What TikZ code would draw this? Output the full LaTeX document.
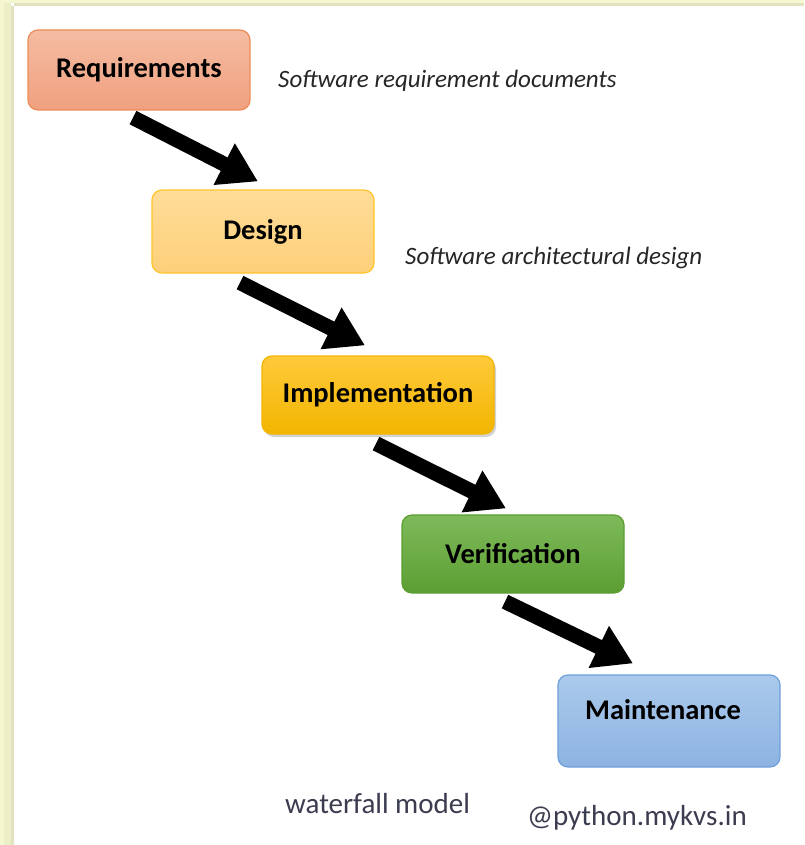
\documentclass[tikz,border=0pt]{standalone}
\usepackage{fontspec}
\setmainfont{Carlito}
\usetikzlibrary{arrows.meta,shadows,calc}

\definecolor{edgeA}{HTML}{F5F7D0}
\definecolor{edgeB}{HTML}{ECEEC6}
\definecolor{edgeC}{HTML}{E2E3BE}
\definecolor{reqTop}{HTML}{F5BCA2}
\definecolor{reqBot}{HTML}{F0A07F}
\definecolor{reqLine}{HTML}{EE8C58}
\definecolor{desTop}{HTML}{FFDC98}
\definecolor{desBot}{HTML}{FDD07A}
\definecolor{desLine}{HTML}{FFC52A}
\definecolor{impTop}{HTML}{FFCA3A}
\definecolor{impBot}{HTML}{F2B500}
\definecolor{verTop}{HTML}{7EBA5B}
\definecolor{verBot}{HTML}{5C9E32}
\definecolor{mntTop}{HTML}{ABCAEB}
\definecolor{mntBot}{HTML}{8DB3E2}
\definecolor{mntLine}{HTML}{6E9FDB}
\definecolor{noteText}{HTML}{262626}
\definecolor{footText}{HTML}{3C3C50}

\begin{document}
\begin{tikzpicture}[x=1pt,y=-1pt,
  stage/.style={rectangle, rounded corners=10pt, minimum width=222pt,
    minimum height=80pt, line width=1.2pt, font=\bfseries\fontsize{28.5}{32}\selectfont,
    text=black},
  boxtext/.style={font=\bfseries\fontsize{28.5}{32}\selectfont, text=black, inner sep=0pt},
  note/.style={font=\itshape\fontsize{25}{30}\selectfont, text=noteText, inner sep=0pt},
  foot/.style={font=\fontsize{29}{34}\selectfont, text=footText, inner sep=0pt},
  bigarrow/.style={line width=15pt, black,
    -{Triangle[length=38pt,width=44pt]}}
]
\useasboundingbox (0,0) rectangle (804,845);
\fill[white] (0,0) rectangle (804,845);

% pale page edges
\fill[edgeA] (0,0) rectangle (804,3);
\fill[edgeC] (14,3) rectangle (804,6);
\fill[edgeA] (0,0) rectangle (4,845);
\fill[edgeB] (4,3) rectangle (11,845);
\fill[edgeC] (11,6) rectangle (14,845);

% phases
\node[stage, top color=reqTop, bottom color=reqBot, draw=reqLine]
  (req) at (139,70) {Requirements};
\node[stage, minimum height=83pt, top color=desTop, bottom color=desBot, draw=desLine]
  (des) at (263,231.5) {Design};
\node[stage, minimum width=232pt, minimum height=78pt, top color=impTop, bottom color=impBot,
  draw=impBot, drop shadow={shadow xshift=2pt, shadow yshift=-3pt, opacity=0.35}]
  (imp) at (378,395) {Implementation};
\node[stage, minimum height=78pt, top color=verTop, bottom color=verBot, draw=verBot]
  (ver) at (513,554) {Verification};
\node[stage, minimum height=92pt, top color=mntTop, bottom color=mntBot, draw=mntLine]
  (mnt) at (669,721) {};
\node[boxtext] (mnttxt) at (663,710) {Maintenance};

% flow arrows
\draw[bigarrow] ($(req.south)+(-6,7)$) -- ($(des.north)+(-5,-8)$);
\draw[bigarrow] ($(des.south)+(-23,9)$) -- ($(imp.north)+(-13,-10)$);
\draw[bigarrow] ($(imp.south)+(-2,9)$) -- ($(ver.north)+(-7,-6)$);
\draw[bigarrow] ($(ver.south)+(-8,8)$) -- ($(mnt.north)+(-36,-11)$);

% annotations
\node[note, anchor=west] (n1) at (278,81) {Software requirement documents};
\node[note, anchor=west] (n2) at (405,258) {Software architectural design};
\node[foot, anchor=west] (cap) at (285,804) {waterfall model};
\node[foot, anchor=west] (src) at (527,818) {@python.mykvs.in};
\end{tikzpicture}
\end{document}
